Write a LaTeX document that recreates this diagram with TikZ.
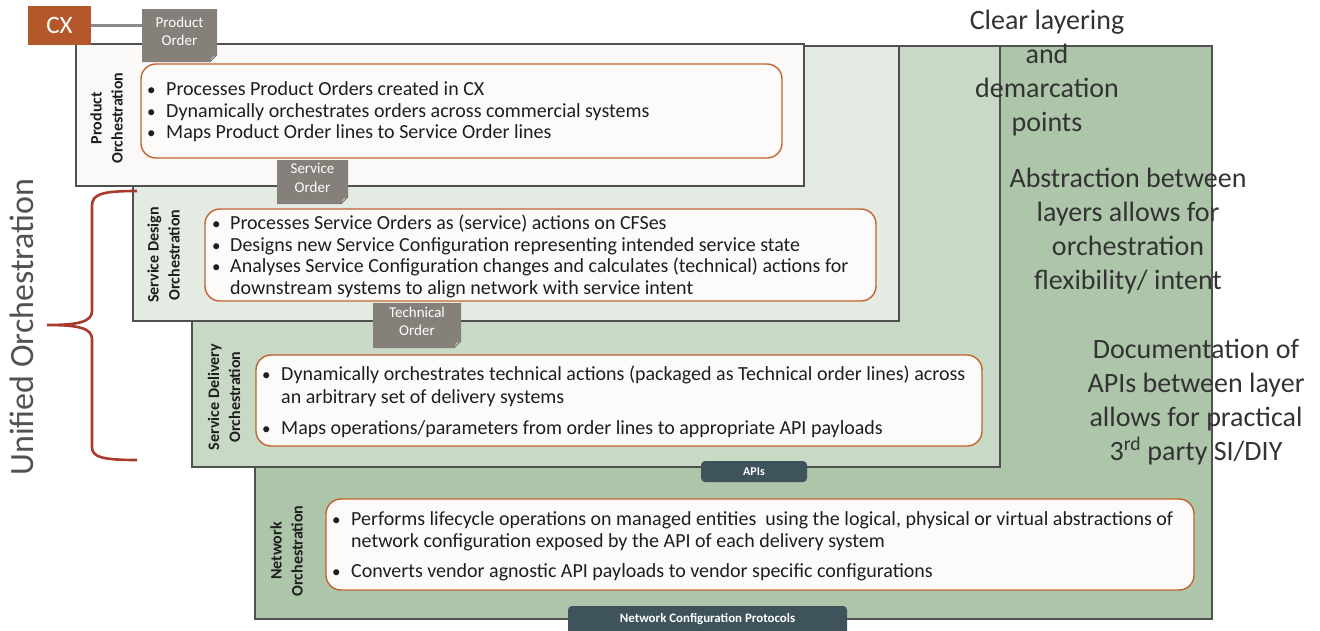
\documentclass[tikz,border=0pt]{standalone}
\usepackage{fontspec}
\setmainfont{Carlito}

\definecolor{netfill}{HTML}{ADC6A9}
\definecolor{delfill}{HTML}{C8D9C6}
\definecolor{desfill}{HTML}{E3EBE3}
\definecolor{prodfill}{HTML}{FAF9F8}
\definecolor{layerline}{HTML}{505050}
\definecolor{bubbleline}{HTML}{C2622F}
\definecolor{bubblefill}{HTML}{FDFBFA}
\definecolor{taggrey}{HTML}{858079}
\definecolor{foldgrey}{HTML}{BDB9B4}
\definecolor{barslate}{HTML}{3F535C}
\definecolor{bracered}{HTML}{A83B2B}
\definecolor{ink}{HTML}{1E1E1E}
\definecolor{notegrey}{HTML}{333333}
\definecolor{cxfill}{HTML}{B4572B}
\definecolor{linkgrey}{HTML}{8C8C8C}

% order tag with a folded bottom-right corner: name, x1, y1, x2, y2, text
\newcommand\ordertag[6]{%
  \fill[taggrey] (#2,#3) -- (#4,#3) -- (#4,#5-7) -- (#4-7,#5) -- (#2,#5) -- cycle;
  \fill[foldgrey] (#4,#5-7) -- (#4-7,#5) -- (#4-5,#5-5) -- cycle;
  \draw[taggrey!70!black, line width=0.6pt] (#4,#5-7) -- (#4-7,#5);
  \node[tagtext, minimum width=#4-#2, minimum height=#5-#3] (#1)
    at ({(#2+#4)/2},{(#3+#5)/2-4}) {#6};
}

\begin{document}
\begin{tikzpicture}[x=1pt, y=-1pt,
  layer/.style={draw=layerline, line width=1.1pt},
  bubble/.style={draw=bubbleline, fill=bubblefill, line width=1.4pt, rounded corners=15pt},
  tagtext/.style={text=white, font=\fontsize{15}{18.5}\selectfont, align=center, inner sep=0pt, outer sep=0pt},
  item/.style={anchor=base west, font=\fontsize{20}{21}\selectfont, text=ink, inner sep=0pt},
  bulletmark/.style={anchor=base west, font=\fontsize{17}{21}\selectfont, text=ink, inner sep=0pt},
  vlabel/.style={rotate=90, font=\bfseries\fontsize{16}{21}\selectfont, align=center, text=ink, inner sep=0pt},
  note/.style={anchor=base, font=\fontsize{28}{34}\selectfont, text=notegrey, inner sep=0pt},
  bar/.style={fill=barslate, text=white, rounded corners=4pt},
  bartext/.style={text=white, font=\bfseries\fontsize{12}{14}\selectfont, inner sep=0pt},
  bracepath/.style={draw=bracered, line width=2.6pt},
]
\useasboundingbox (0,0) rectangle (1320,630);

% stacked orchestration layers, back to front
\filldraw[layer, fill=netfill]  (255,46) rectangle (1212,619);
\filldraw[layer, fill=delfill]  (192,46) rectangle (1000,467);
\filldraw[layer, fill=desfill]  (133,46) rectangle (899,321);
\filldraw[layer, fill=prodfill] (76,44)  rectangle (804,186);

% description bubbles
\draw[bubble] (141,64)  rectangle (782,158);
\draw[bubble] (205,209) rectangle (876,301);
\draw[bubble] (256,355) rectangle (982,446);
\draw[bubble] (326,499) rectangle (1194,590);

% layer names
\node[vlabel] (lprod) at (106.5,118) {Product\\Orchestration};
\node[vlabel] (ldes)  at (163.5,255) {Service Design\\Orchestration};
\node[vlabel] (ldel)  at (224,397)   {Service Delivery\\Orchestration};
\node[vlabel] (lnet)  at (286.5,551) {Network\\Orchestration};

% product orchestration bullets
\node[bulletmark] (pb1) at (147,95)  {•};
\node[bulletmark] (pb2) at (147,117) {•};
\node[bulletmark] (pb3) at (147,138) {•};
\node[item] (pt1) at (166,95)  {Processes Product Orders created in CX};
\node[item] (pt2) at (166,117) {Dynamically orchestrates orders across commercial systems};
\node[item] (pt3) at (166,138) {Maps Product Order lines to Service Order lines};

% service design bullets
\node[bulletmark] (db1) at (212,229) {•};
\node[bulletmark] (db2) at (212,251) {•};
\node[bulletmark] (db3) at (212,272) {•};
\node[item] (dt1) at (230,229) {Processes Service Orders as (service) actions on CFSes};
\node[item] (dt2) at (230,251) {Designs new Service Configuration representing intended service state};
\node[item] (dt3) at (230,272) {Analyses Service Configuration changes and calculates (technical) actions for};
\node[item] (dt4) at (230,294) {downstream systems to align network with service intent};

% service delivery bullets
\node[bulletmark] (eb1) at (262,380) {•};
\node[bulletmark] (eb2) at (262,434) {•};
\node[item] (et1) at (281,380) {Dynamically orchestrates technical actions (packaged as Technical order lines) across};
\node[item] (et2) at (281,403) {an arbitrary set of delivery systems};
\node[item] (et3) at (281,434) {Maps operations/parameters from order lines to appropriate API payloads};

% network orchestration bullets
\node[bulletmark] (nb1) at (332,525) {•};
\node[bulletmark] (nb2) at (332,577) {•};
\node[item] (nt1) at (351,525) {Performs lifecycle operations on managed entities\ \ using the logical, physical or virtual abstractions of};
\node[item] (nt2) at (351,547) {network configuration exposed by the API of each delivery system};
\node[item] (nt3) at (351,577) {Converts vendor agnostic API payloads to vendor specific configurations};

% interface bars
\fill[bar] (701,461) rectangle (807,482);
\node[bartext] (apis) at (754,471.5) {APIs};
\fill[bar] (568,606) rectangle (847,640);
\node[bartext, font=\bfseries\fontsize{12.9}{15}\selectfont] (ncp) at (707.5,619) {Network Configuration Protocols};

% customer experience entry point and order tags
\node[fill=cxfill, text=white, font=\fontsize{25}{28}\selectfont, minimum width=63, minimum height=39, inner sep=0pt] (cx) at (59.5,25.5) {CX};
\ordertag{potag}{142}{9}{217}{62}{Product\\Order}
\ordertag{sotag}{277}{160}{348}{204}{Service\\Order}
\ordertag{totag}{373}{303}{461}{348}{Technical\\Order}
\draw[linkgrey, line width=2.5pt] (cx.east) -- (cx.east -| potag.west);

% brace grouping the unified layers
\draw[bracepath] (137,191) .. controls (102,191) and (92,194) .. (92,206)
  -- (92,311) .. controls (92,322) and (78,325) .. (47,325)
  .. controls (78,325) and (92,328) .. (92,339)
  -- (92,447) .. controls (92,457) and (102,460) .. (137,460);
\node[rotate=90, font=\fontsize{34}{40}\selectfont, text=notegrey!85!white, inner sep=0pt] (unified) at (22,327) {Unified Orchestration};

% benefit notes
\foreach \t [count=\i] in {Clear layering, and, demarcation, points}
  \node[note] (clear\i) at (1047,{29+34*(\i-1)}) {\t};
\foreach \t [count=\i] in {Abstraction between, layers allows for, orchestration, flexibility/ intent}
  \node[note] (abs\i) at (1128,{187+34*(\i-1)}) {\t};
\foreach \t [count=\i] in {Documentation of, APIs between layer, allows for practical, {3\textsuperscript{rd} party SI/DIY}}
  \node[note] (doc\i) at (1196,{358+34*(\i-1)}) {\t};
\end{tikzpicture}
\end{document}
